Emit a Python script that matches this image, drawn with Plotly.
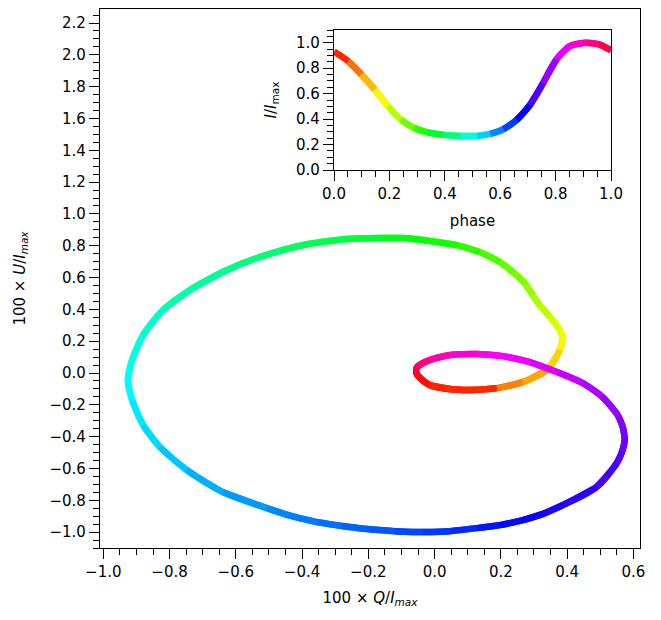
import numpy as np
import plotly.graph_objects as go

# ---- Main Q-U loop ----
phase_qu = [0.00, 0.02, 0.03, 0.073, 0.10, 0.125, 0.155, 0.175, 0.19, 0.205,
            0.22, 0.235, 0.25, 0.265, 0.28, 0.30, 0.32, 0.335, 0.35, 0.365,
            0.38, 0.39, 0.40, 0.408, 0.417, 0.424, 0.432, 0.447, 0.463, 0.48,
            0.495, 0.507, 0.517, 0.527, 0.54, 0.553, 0.568, 0.583, 0.592, 0.60,
            0.608, 0.615, 0.625, 0.635, 0.645, 0.655, 0.667, 0.68, 0.69, 0.70,
            0.715, 0.73, 0.74, 0.75, 0.76, 0.77, 0.785, 0.80, 0.815, 0.83,
            0.845, 0.865, 0.885, 0.915, 0.95, 1.00]
q_vals = [-0.054, -0.015, 0.085, 0.188, 0.266, 0.339, 0.378, 0.387, 0.372, 0.348,
          0.317, 0.296, 0.272, 0.236, 0.197, 0.136, 0.067, -0.015, -0.096, -0.165,
          -0.265, -0.331, -0.398, -0.464, -0.527, -0.585, -0.639, -0.729, -0.820, -0.880,
          -0.913, -0.926, -0.913, -0.880, -0.829, -0.748, -0.639, -0.506, -0.431, -0.355,
          -0.280, -0.205, -0.120, -0.036, 0.046, 0.127, 0.197, 0.266, 0.329, 0.387,
          0.489, 0.550, 0.566, 0.574, 0.568, 0.553, 0.507, 0.447, 0.369, 0.287,
          0.206, 0.127, 0.046, -0.015, -0.054, -0.054]
u_vals = [-0.007, -0.076, -0.107, -0.095, -0.057, 0.018, 0.144, 0.220, 0.289, 0.352,
          0.427, 0.490, 0.565, 0.635, 0.698, 0.760, 0.804, 0.830, 0.848, 0.848,
          0.842, 0.826, 0.804, 0.770, 0.729, 0.685, 0.635, 0.534, 0.396, 0.239,
          0.081, -0.045, -0.170, -0.327, -0.466, -0.610, -0.749, -0.849, -0.900, -0.937,
          -0.962, -0.981, -0.994, -1.000, -0.994, -0.975, -0.956, -0.925, -0.884, -0.830,
          -0.717, -0.566, -0.494, -0.422, -0.340, -0.265, -0.151, -0.063, 0.006, 0.069,
          0.106, 0.119, 0.113, 0.081, 0.037, -0.007]

# ---- Inset: intensity vs phase ----
phase_i = [0.0, 0.051, 0.099, 0.147, 0.195, 0.242, 0.29, 0.338, 0.397, 0.457,
           0.517, 0.564, 0.612, 0.66, 0.708, 0.755, 0.803, 0.851, 0.91, 0.958, 1.0]
i_vals = [0.93, 0.855, 0.75, 0.632, 0.50, 0.395, 0.329, 0.295, 0.276, 0.268,
          0.268, 0.284, 0.321, 0.395, 0.513, 0.684, 0.868, 0.974, 1.0, 0.987, 0.94]

x_ticks = [-1.0, -0.8, -0.6, -0.4, -0.2, 0.0, 0.2, 0.4, 0.6]
y_ticks = [-1.0, -0.8, -0.6, -0.4, -0.2, 0.0, 0.2, 0.4, 0.6, 0.8, 1.0, 1.2, 1.4,
           1.6, 1.8, 2.0, 2.2]
inset_ticks = [0.0, 0.2, 0.4, 0.6, 0.8, 1.0]

# matplotlib 'hsv' colormap
_HSV = {
    'r': ([0.0, 0.158730, 0.174603, 0.333333, 0.349206, 0.666667, 0.682540, 0.841270, 0.857143, 1.0],
          [1.0, 1.0, 0.96875, 0.03125, 0.0, 0.0, 0.03125, 0.96875, 1.0, 1.0]),
    'g': ([0.0, 0.158730, 0.174603, 0.507937, 0.666667, 0.682540, 1.0],
          [0.0, 0.9375, 1.0, 1.0, 0.0625, 0.0, 0.0]),
    'b': ([0.0, 0.333333, 0.349206, 0.507937, 0.841270, 0.857143, 1.0],
          [0.0, 0.0, 0.0625, 1.0, 1.0, 0.9375, 0.09375]),
}


def hsv_color(t):
    r = np.interp(t, *_HSV['r'])
    g = np.interp(t, *_HSV['g'])
    b = np.interp(t, *_HSV['b'])
    return f"rgb({int(round(r*255))},{int(round(g*255))},{int(round(b*255))})"


FONT = "DejaVu Sans"
fig = go.Figure()
LW = 6.5


def piece(xs, ys, idx, color, xa, ya):
    fig.add_trace(go.Scatter(
        x=[xs[i] for i in idx], y=[ys[i] for i in idx], mode="lines",
        line=dict(color=color, width=LW, shape="spline"),
        xaxis=xa, yaxis=ya, showlegend=False, hoverinfo="skip"))


def add_closed(xs, ys, ph, xa, ya):
    m = len(xs) - 1          # last point repeats the first
    order = list(range(1, m + 1)) + [1, 2]
    for k in order:
        idx = [(k - 1) % m, k % m, (k + 1) % m]
        col = hsv_color(0.5 * (ph[k - 1] + ph[k]))
        piece(xs, ys, idx, col, xa, ya)


def add_open(xs, ys, ph, xa, ya):
    n = len(xs)
    for k in range(1, n):
        idx = [i for i in (k - 1, k, k + 1) if i < n]
        col = hsv_color(0.5 * (ph[k - 1] + ph[k]))
        piece(xs, ys, idx, col, xa, ya)


add_closed(q_vals, u_vals, phase_qu, "x", "y")
add_open(phase_i, i_vals, phase_i, "x2", "y2")

axis_common = dict(
    showgrid=False, zeroline=False, showline=True, linecolor="black", linewidth=1.2,
    mirror=True, ticks="outside", ticklen=10, tickwidth=1.2, tickcolor="black",
    tickfont=dict(family=FONT, size=15, color="black"),
    tickformat=".1f",
)
minor_common = dict(dtick=0.05, tick0=0, ticklen=5.5, tickwidth=1.2,
                    tickcolor="black", ticks="outside")

L, R, T, B = 100, 21, 9, 72
W, H = 661, 620
pw, ph_ = W - L - R, H - T - B

fig.update_layout(
    width=W, height=H,
    margin=dict(l=L, r=R, t=T, b=B, pad=0),
    paper_bgcolor="white", plot_bgcolor="white",
    font=dict(family=FONT, size=15, color="black"),
    xaxis=dict(**axis_common, range=[-1.01, 0.62], tickvals=x_ticks,
               minor=minor_common,
               title=dict(text="100 × <i>Q</i>/<i>I</i><sub><i>max</i></sub>",
                          font=dict(family=FONT, size=15), standoff=12),
               domain=[0, 1]),
    yaxis=dict(**axis_common, range=[-1.10, 2.288], tickvals=y_ticks,
               minor=minor_common,
               title=dict(text="100 × <i>U</i>/<i>I</i><sub><i>max</i></sub>",
                          font=dict(family=FONT, size=15), standoff=20),
               domain=[0, 1]),
    xaxis2=dict(**axis_common, range=[0, 1], tickvals=inset_ticks, anchor="y2",
                minor=minor_common,
                title=dict(text="phase", font=dict(family=FONT, size=15), standoff=13),
                domain=[(334 - L) / pw, (611 - L) / pw]),
    yaxis2=dict(**axis_common, range=[0, 1.1], tickvals=inset_ticks, anchor="x2",
                minor=minor_common,
                title=dict(text="<i>I</i>/<i>I</i><sub>max</sub>",
                           font=dict(family=FONT, size=15), standoff=15),
                domain=[(H - B - 170) / ph_, (H - B - 30) / ph_]),
)

fig.write_html("out.html")
